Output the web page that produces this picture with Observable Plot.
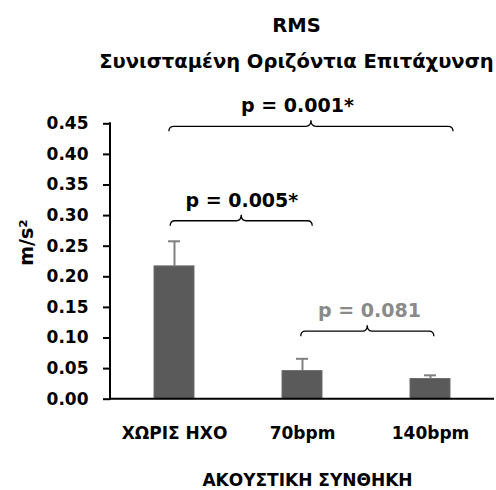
<!DOCTYPE html>
<html>
<head>
<meta charset="utf-8">
<script src="https://cdn.jsdelivr.net/npm/d3@7"></script>
<script src="https://cdn.jsdelivr.net/npm/@observablehq/plot@0.6"></script>
<style>
  html, body { margin: 0; padding: 0; background: #fff; }
</style>
</head>
<body>
<div id="chart"></div>
<script>
// Acoustic conditions and mean RMS resultant horizontal acceleration (m/s²)
const categories = ["ΧΩΡΙΣ ΗΧΟ", "70bpm", "140bpm"];
const means = [0.217, 0.046, 0.033];
const errors = [0.041, 0.020, 0.006];
const yTicks = [0, 0.05, 0.10, 0.15, 0.20, 0.25, 0.30, 0.35, 0.40, 0.45];

// Pairwise comparisons: bracket ends (in category steps), height and p-value text
const bracketFrom = [-0.04, -0.03, 0.99];
const bracketTo = [2.18, 1.08, 2.03];
const bracketLevel = [0.4451, 0.2908, 0.1103];
const bracketLabelAt = [0.965, 0.53, 1.527];
const bracketLabel = ["p = 0.001*", "p = 0.005*", "p = 0.081"];
const bracketSignificant = [true, true, false];

const titleLines = ["RMS", "Συνισταμένη Οριζόντια Επιτάχυνση"];
const yLabel = "m/s²";
const xLabel = "ΑΚΟΥΣΤΙΚΗ ΣΥΝΘΗΚΗ";

const rows = categories.map((c, i) => ({cat: c, mean: means[i], top: means[i] + errors[i]}));
const comparisons = bracketFrom.map((f, i) => ({
  from: f, to: bracketTo[i], level: bracketLevel[i],
  at: bracketLabelAt[i], label: bracketLabel[i], sig: bracketSignificant[i]
}));

const font = "DejaVu Sans";

// Black axis lines along the left and bottom of the frame
function axisLines(index, scales, values, dim) {
  const g = d3.create("svg:g").attr("stroke", "#000").attr("stroke-width", 2);
  const y0 = scales.y(0), y1 = scales.y(0.45);
  g.append("line").attr("x1", dim.marginLeft).attr("x2", dim.marginLeft)
    .attr("y1", y1 - 1).attr("y2", y0 + 1);
  g.append("line").attr("x1", dim.marginLeft).attr("x2", dim.width - dim.marginRight)
    .attr("y1", y0).attr("y2", y0);
  return g.node();
}

// Curly comparison brackets with their p-value labels
function brackets(index, scales, values, dim) {
  const x = scales.x, y = scales.y;
  const bw = typeof x.bandwidth === "function" ? x.bandwidth() : (x.bandwidth || 0);
  const step = x(categories[1]) - x(categories[0]);
  const cx = t => x(categories[0]) + bw / 2 + t * step;
  const tip = 5, peak = 6, r = 5;
  const g = d3.create("svg:g");
  for (const c of comparisons) {
    const x1 = cx(c.from), x2 = cx(c.to), xm = (x1 + x2) / 2, yl = y(c.level);
    const p = d3.path();
    p.moveTo(x1, yl + tip);
    p.quadraticCurveTo(x1, yl, x1 + r, yl);
    p.lineTo(xm - r, yl);
    p.quadraticCurveTo(xm, yl, xm, yl - peak);
    p.quadraticCurveTo(xm, yl, xm + r, yl);
    p.lineTo(x2 - r, yl);
    p.quadraticCurveTo(x2, yl, x2, yl + tip);
    g.append("path").attr("d", p.toString()).attr("fill", "none")
      .attr("stroke", "#000").attr("stroke-width", 1.3);
    g.append("text")
      .attr("x", cx(c.at)).attr("y", yl - 14)
      .attr("text-anchor", "middle")
      .attr("font-family", font).attr("font-weight", "bold").attr("font-size", 19)
      .attr("fill", c.sig ? "#000" : "#8a8a8a")
      .text(c.label);
  }
  return g.node();
}

const chart = Plot.plot({
  width: 496,
  height: 490,
  marginLeft: 110,
  marginRight: 2,
  marginTop: 123.3,
  marginBottom: 91.3,
  style: {fontFamily: font, fontWeight: "bold", fontSize: "17px", color: "#000", background: "#fff", overflow: "visible"},
  x: {domain: categories, paddingInner: 0.6875, paddingOuter: 0.34375, axis: null},
  y: {domain: [0, 0.45], axis: null},
  marks: [
    Plot.barY(rows, {x: "cat", y: "mean", fill: "#5a5a5a", stroke: "#6e6e6e", strokeWidth: 1}),
    Plot.ruleX(rows, {x: "cat", y1: "mean", y2: "top", stroke: "#808080", strokeWidth: 2}),
    Plot.tickY(rows, {x: "cat", y: "top", stroke: "#808080", strokeWidth: 2, insetLeft: 14, insetRight: 14}),
    axisLines,
    Plot.axisY({ticks: yTicks, tickFormat: d3.format(".2f"), tickSize: 7, tickPadding: 15, strokeWidth: 2, label: null, fontSize: 17}),
    Plot.axisX({tickSize: 0, tickPadding: 28, label: null, fontSize: 17}),
    brackets,
    Plot.text([yLabel], {frameAnchor: "left", textAnchor: "middle", rotate: -90, dx: -84, dy: -19, fontSize: 19, fontWeight: "bold"}),
    Plot.text([xLabel], {frameAnchor: "bottom", dx: 5, dy: 86.5, fontSize: 17, fontWeight: "bold"}),
    Plot.text([titleLines[0]], {frameAnchor: "top", dx: -6, dy: -106, fontSize: 19.5, fontWeight: "bold"}),
    Plot.text([titleLines[1]], {frameAnchor: "top", dx: -6, dy: -70, fontSize: 19.5, fontWeight: "bold"})
  ]
});

document.getElementById("chart").append(chart);
</script>
</body>
</html>
